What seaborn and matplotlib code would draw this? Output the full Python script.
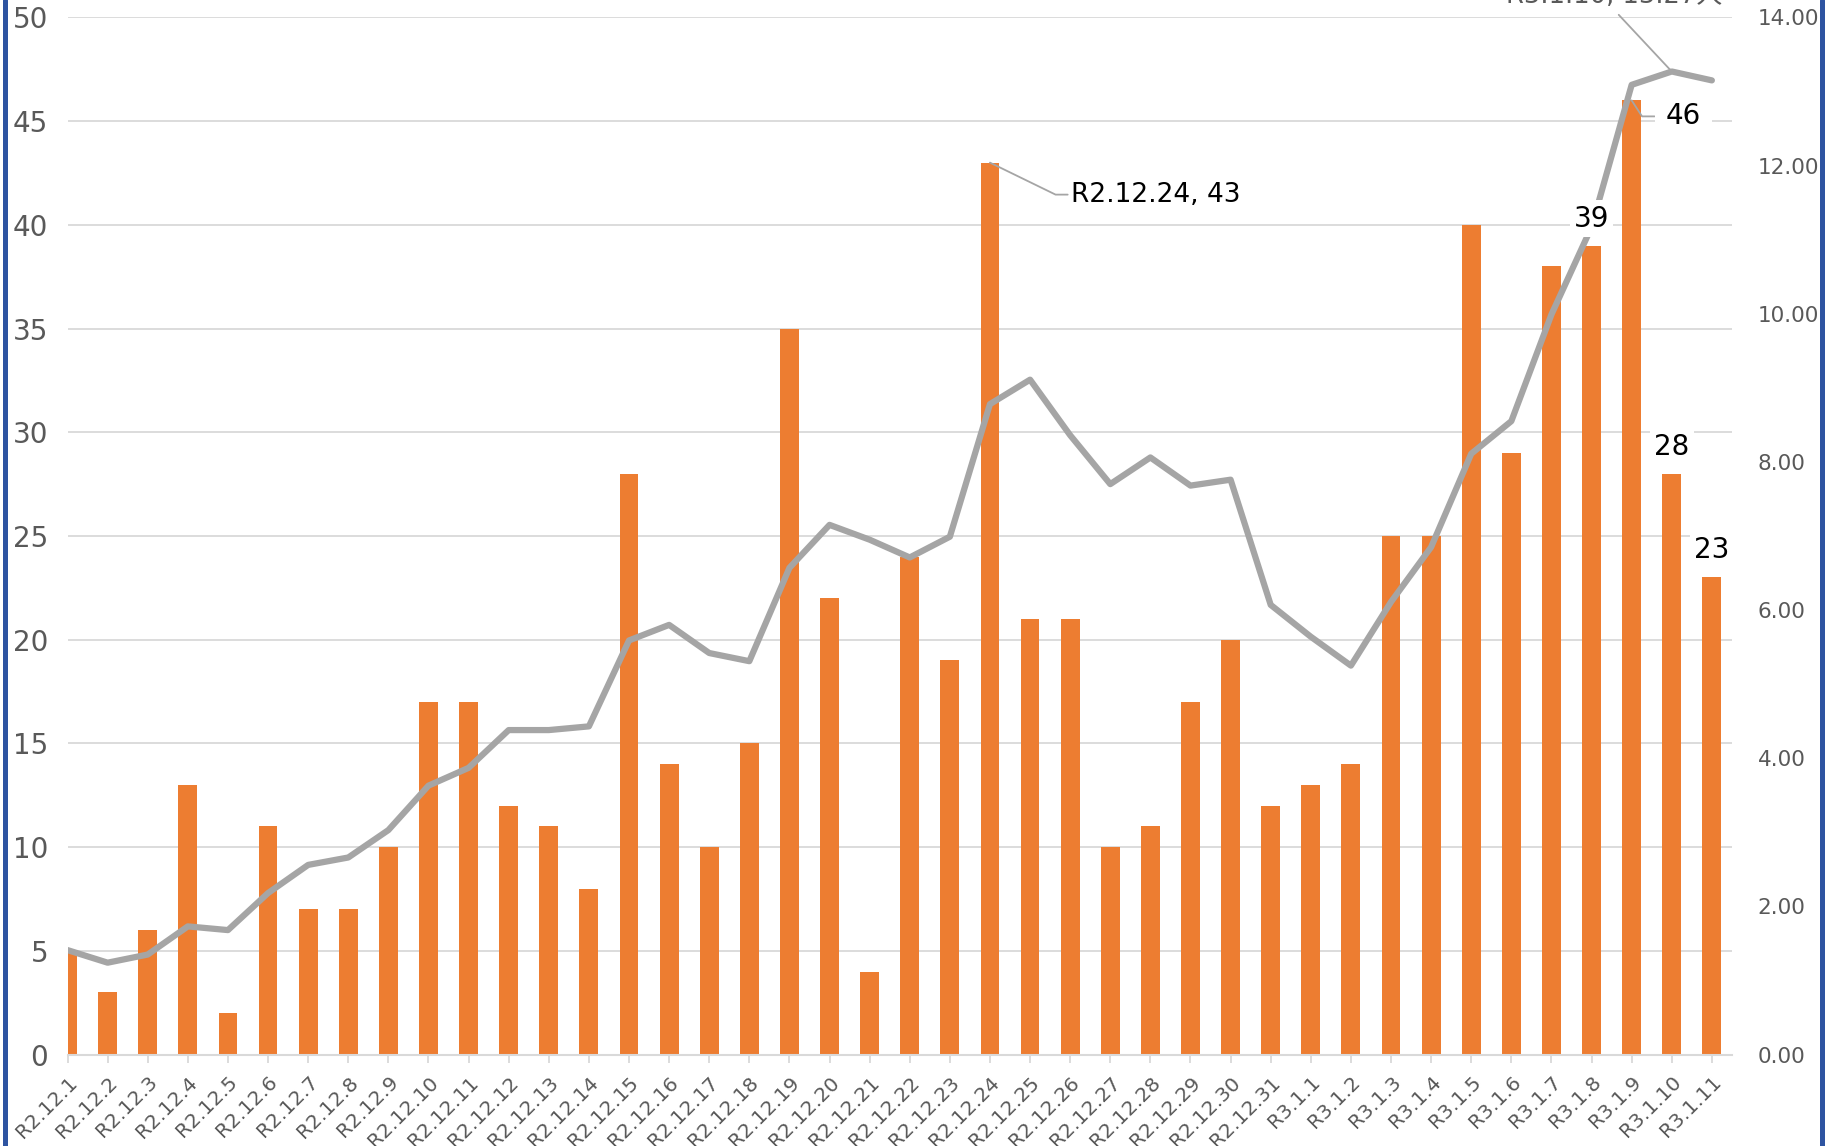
import numpy as np
import pandas as pd
import matplotlib
matplotlib.use('Agg')
import matplotlib.pyplot as plt
import seaborn as sns
from matplotlib.lines import Line2D
from matplotlib.ticker import FormatStrFormatter

# 日付ラベル
dates = ['R2.12.1', 'R2.12.2', 'R2.12.3', 'R2.12.4', 'R2.12.5', 'R2.12.6', 'R2.12.7',
         'R2.12.8', 'R2.12.9', 'R2.12.10', 'R2.12.11', 'R2.12.12', 'R2.12.13', 'R2.12.14',
         'R2.12.15', 'R2.12.16', 'R2.12.17', 'R2.12.18', 'R2.12.19', 'R2.12.20', 'R2.12.21',
         'R2.12.22', 'R2.12.23', 'R2.12.24', 'R2.12.25', 'R2.12.26', 'R2.12.27', 'R2.12.28',
         'R2.12.29', 'R2.12.30', 'R2.12.31', 'R3.1.1', 'R3.1.2', 'R3.1.3', 'R3.1.4',
         'R3.1.5', 'R3.1.6', 'R3.1.7', 'R3.1.8', 'R3.1.9', 'R3.1.10', 'R3.1.11']

# 新規感染者数 (棒, 左軸)
cases = [5, 3, 6, 13, 2, 11, 7, 7, 10, 17, 17, 12, 11, 8, 28, 14, 10, 15, 35, 22, 4,
         24, 19, 43, 21, 21, 10, 11, 17, 20, 12, 13, 14, 25, 25, 40, 29, 38, 39, 46, 28, 23]

# 人口10万人あたり (折れ線, 右軸)
rate = [1.41, 1.24, 1.35, 1.73, 1.68, 2.18, 2.56, 2.66, 3.03, 3.63, 3.87, 4.38, 4.38, 4.43,
        5.59, 5.80, 5.42, 5.31, 6.57, 7.15, 6.95, 6.71, 6.99, 8.78, 9.11, 8.36, 7.70, 8.06,
        7.68, 7.76, 6.07, 5.64, 5.25, 6.11, 6.85, 8.11, 8.55, 9.99, 11.17, 13.09, 13.27, 13.15]

# 数値ラベルを付ける棒
labelled = ['R3.1.8', 'R3.1.10', 'R3.1.11']

BAR = '#ED7D31'
LINE = '#A5A5A5'
GRID = '#D9D9D9'
TXT = '#595959'

sns.set_theme(style='white')
plt.rcParams['font.family'] = ['DejaVu Sans', 'Noto Sans CJK JP']

df = pd.DataFrame({'date': dates, 'cases': cases, 'rate': rate})
df['pos'] = np.arange(len(df))
n = len(df)

fig = plt.figure(figsize=(18.25, 11.46), dpi=100)
ax = fig.add_axes([0.037, 0.0798, 0.912, 0.905])

sns.barplot(data=df, x='date', y='cases', color=BAR, saturation=1, width=0.47,
            linewidth=0, ax=ax, zorder=2)
ax.set_xlim(0, n - 0.5)
ax.set_ylim(0, 50)
ax.set_yticks(np.arange(0, 51, 5))
ax.yaxis.grid(True, color=GRID, lw=1.3)
ax.xaxis.grid(False)
ax.set_axisbelow(True)
for s in ['top', 'left', 'right']:
    ax.spines[s].set_visible(False)
ax.spines['bottom'].set_color(GRID)
ax.spines['bottom'].set_linewidth(1.5)
ax.set_xlabel('')
ax.set_ylabel('')
ax.tick_params(axis='x', bottom=True, length=6, width=1.3, color=GRID, direction='out',
               labelsize=14.5, labelcolor=TXT, pad=7)
ax.tick_params(axis='y', length=0, labelsize=20, labelcolor=TXT, pad=14)
for lbl in ax.get_xticklabels():
    lbl.set_rotation(45)
    lbl.set_ha('right')
    lbl.set_va('top')
    lbl.set_rotation_mode('anchor')

ax2 = ax.twinx()
sns.lineplot(data=df, x='pos', y='rate', color=LINE, lw=4.5, sort=False, ax=ax2, zorder=3)
ax2.set_xlim(0, n - 0.5)
ax2.set_ylim(0, 14)
ax2.set_yticks(np.arange(0, 15, 2))
ax2.yaxis.set_major_formatter(FormatStrFormatter('%.2f'))
ax2.grid(False)
for s in ax2.spines.values():
    s.set_visible(False)
ax2.set_ylabel('')
ax2.tick_params(axis='y', length=0, labelsize=15.5, labelcolor=TXT, pad=18.5)

# 注記
i_max = dates.index('R2.12.24')
ax2.annotate('R2.12.24, 43', xy=(i_max, cases[i_max]), xycoords=ax.transData,
             xytext=(81, -32), textcoords='offset pixels', ha='left', va='center',
             fontsize=19, color='black', zorder=6,
             arrowprops=dict(arrowstyle='-', color=LINE, lw=1.3, shrinkA=0, shrinkB=0,
                             relpos=(0, 0.5),
                             connectionstyle='angle,angleA=0,angleB=-26,rad=0'))

i_46 = dates.index('R3.1.9')
ax2.annotate(str(cases[i_46]), xy=(i_46, cases[i_46]), xycoords=ax.transData,
             xytext=(34, -16), textcoords='offset pixels', ha='left', va='center',
             fontsize=20, color='black', zorder=6,
             bbox=dict(boxstyle='square,pad=0.4', fc='white', ec='none'),
             arrowprops=dict(arrowstyle='-', color=LINE, lw=1.3, shrinkA=0, shrinkB=0,
                             relpos=(0, 0.5),
                             connectionstyle='angle,angleA=0,angleB=-57,rad=0'))

for d in labelled:
    i = dates.index(d)
    ax2.annotate(str(cases[i]), xy=(i, cases[i]), xycoords=ax.transData,
                 xytext=(0, 27), textcoords='offset pixels', ha='center', va='center',
                 fontsize=20, color='black', zorder=6,
                 bbox=dict(boxstyle='square,pad=0.15', fc='white', ec='none'))

i_top = dates.index('R3.1.10')
ax2.annotate('R3.1.10, %.2f人' % rate[i_top], xy=(i_top, rate[i_top]),
             xytext=(-58, 62), textcoords='offset pixels', ha='center', va='bottom',
             fontsize=18.5, color=TXT, zorder=6, annotation_clip=False,
             arrowprops=dict(arrowstyle='-', color=LINE, lw=1.3, shrinkA=2, shrinkB=0,
                             relpos=(0.5, 0)))

# 画面キャプチャの青い枠線
fig.add_artist(Line2D([0.0025, 0.0025], [0, 1], transform=fig.transFigure, color='#2E54A1', lw=3.6))
fig.add_artist(Line2D([0.9986, 0.9986], [0, 1], transform=fig.transFigure, color='#2E54A1', lw=3.6))

fig.savefig('out.png', dpi=100)
